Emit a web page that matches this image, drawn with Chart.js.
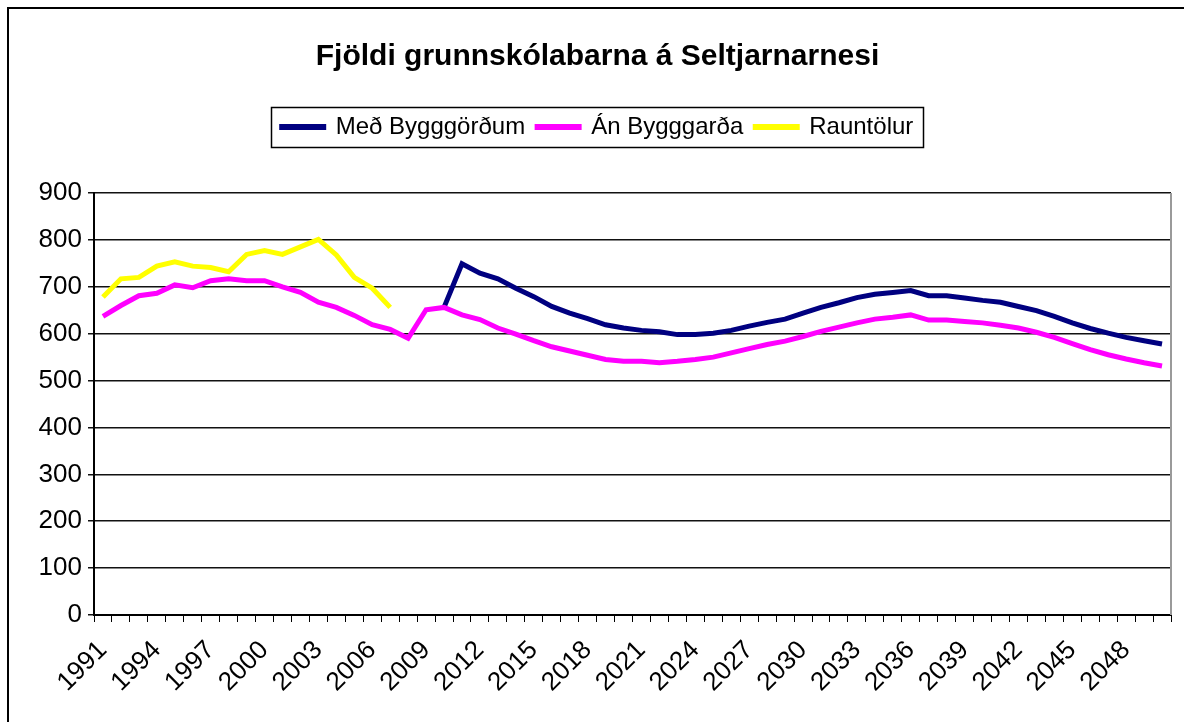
<!DOCTYPE html>
<html><head><meta charset="utf-8">
<script src="https://cdn.jsdelivr.net/npm/chart.js@4.4.1/dist/chart.umd.min.js"></script>
<style>html,body{margin:0;padding:0;background:#fff;overflow:hidden}</style>
</head><body>
<canvas id="c" width="1184" height="722"></canvas>
<script>
const years = ['1991','1992','1993','1994','1995','1996','1997','1998','1999','2000',
 '2001','2002','2003','2004','2005','2006','2007','2008','2009','2010',
 '2011','2012','2013','2014','2015','2016','2017','2018','2019','2020',
 '2021','2022','2023','2024','2025','2026','2027','2028','2029','2030',
 '2031','2032','2033','2034','2035','2036','2037','2038','2039','2040',
 '2041','2042','2043','2044','2045','2046','2047','2048','2049','2050'];
const medBygggordum = [null,null,null,null,null,null,null,null,null,null,
 null,null,null,null,null,null,null,null,null,656,
 749,729,717,697,679,658,644,632,619,612,
 607,604,598,598,601,607,616,624,631,644,
 656,666,677,684,688,692,681,681,676,671,
 667,658,649,637,623,611,601,592,585,578];
const anBygggarda = [637,660,681,686,704,698,713,717,713,713,
 700,688,667,656,639,619,609,590,651,656,
 640,630,612,599,585,572,563,554,545,541,
 541,538,541,545,550,559,568,577,584,594,
 605,614,623,631,635,640,629,629,626,623,
 618,612,603,592,579,566,555,546,538,531];
const rauntolur = [678,717,720,744,753,744,741,732,769,777,
 769,785,801,768,720,697,656];
const seriesNames = ['Með Bygggörðum','Án Bygggarða','Rauntölur'];
const seriesColors = ['#000080','#FF00FF','#FFFF00'];
const titleText = 'Fjöldi grunnskólabarna á Seltjarnarnesi';

const FONT = "'Liberation Sans', Arial, sans-serif";
Chart.defaults.font.family = FONT;
Chart.defaults.color = '#000';

const framePlugin = {
  id: 'framePlugin',
  beforeDraw(chart) {
    const ctx = chart.ctx;
    ctx.save();
    ctx.fillStyle = '#fff';
    ctx.fillRect(0, 0, chart.width, chart.height);
    ctx.restore();
  },
  beforeDatasetsDraw(chart) {
    const a = chart.chartArea, ctx = chart.ctx;
    ctx.save();
    ctx.strokeStyle = '#9a9a9a';
    ctx.lineWidth = 2;
    ctx.beginPath();
    ctx.moveTo(a.right, a.top);
    ctx.lineTo(a.right, a.bottom);
    ctx.stroke();
    ctx.restore();
  },
  afterDraw(chart) {
    const ctx = chart.ctx;
    ctx.save();
    ctx.strokeStyle = '#000';
    ctx.lineWidth = 2;
    ctx.strokeRect(8, 8, chart.width + 20, chart.height + 20);
    const hb = chart.legend.legendHitBoxes;
    if (hb && hb.length) {
      const l = hb[0].left - 11;
      const last = hb[hb.length - 1];
      const r = last.left + last.width + 9;
      const cy = hb[0].top + hb[0].height / 2;
      ctx.lineWidth = 1.5;
      ctx.strokeRect(Math.round(l) + 0.5, Math.round(cy - 20) + 0.5, Math.round(r - l), 40);
    }
    ctx.restore();
  }
};

new Chart(document.getElementById('c'), {
  type: 'line',
  data: {
    labels: years,
    datasets: [
      { label: seriesNames[0], data: medBygggordum, borderColor: seriesColors[0], backgroundColor: seriesColors[0], order: 3 },
      { label: seriesNames[1], data: anBygggarda, borderColor: seriesColors[1], backgroundColor: seriesColors[1], order: 2 },
      { label: seriesNames[2], data: rauntolur, borderColor: seriesColors[2], backgroundColor: seriesColors[2], order: 1 }
    ]
  },
  options: {
    responsive: false,
    animation: false,
    devicePixelRatio: 1,
    layout: { padding: { left: 24, right: 13, top: 0, bottom: 0 } },
    elements: {
      line: { borderWidth: 5, tension: 0, fill: false, borderCapStyle: 'butt', borderJoinStyle: 'miter' },
      point: { radius: 0, hoverRadius: 0 }
    },
    plugins: {
      title: {
        display: true, text: titleText,
        font: { size: 30, weight: 'bold', lineHeight: 1.2 },
        padding: { top: 39, bottom: 28 }, color: '#000'
      },
      subtitle: {
        display: true, text: '', weight: 500,
        font: { size: 44, lineHeight: 1 }, padding: 0
      },
      legend: {
        display: true, position: 'top',
        labels: {
          boxWidth: 42, boxHeight: 1, padding: 12,
          font: { size: 24 }, color: '#000',
          sort: (a, b) => a.datasetIndex - b.datasetIndex
        }
      },
      tooltip: { enabled: false }
    },
    scales: {
      x: {
        type: 'category',
        offset: true,
        grid: { display: true, drawOnChartArea: false, drawTicks: true, tickLength: 7, offset: true, color: '#000', lineWidth: 1 },
        border: { display: true, color: '#000', width: 2 },
        ticks: {
          autoSkip: false, maxRotation: 45, minRotation: 45, padding: 13,
          font: { size: 26 }, color: '#000',
          callback: function (v, i) { return i % 3 === 0 ? years[i] : ''; }
        },
        afterFit(scale) { scale.height = 107; scale.paddingLeft = 0; scale.paddingRight = 0; }
      },
      y: {
        min: 0, max: 900,
        grid: { color: '#111', lineWidth: 1.5, drawTicks: true, tickLength: 6 },
        border: { display: true, color: '#000', width: 2 },
        ticks: { stepSize: 100, padding: 6, font: { size: 26 }, color: '#000' },
        afterFit(scale) { scale.width = 70; scale.paddingTop = 0; scale.paddingBottom = 0; }
      }
    }
  },
  plugins: [framePlugin]
});
</script>
</body></html>
